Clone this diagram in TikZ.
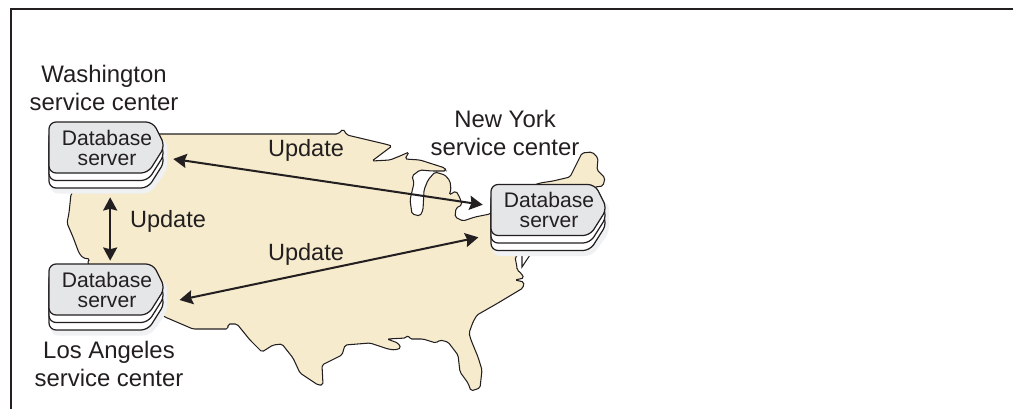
\documentclass[tikz,border=0pt]{standalone}
\usepackage{fontspec}
\setmainfont{Liberation Sans}
\usetikzlibrary{arrows.meta}
\definecolor{mapfill}{HTML}{F6EBCD}
\definecolor{platefill}{HTML}{E5E6E8}
\definecolor{plateshadow}{HTML}{EFF1F3}
\definecolor{inkline}{HTML}{231F20}
% one stacked server; #1 name, #2 and #3 centre of the top plate
\newcommand{\dbserver}[3]{
    \fill[plateshadow, rounded corners=4] (#2-56,#3-10) -- (#2+60,#3-8) -- (#2+60,#3+23) -- (#2+43,#3+46) -- (#2-56,#3+46) -- cycle;
    \foreach \dy in {15,7.5,0} {
        \ifdim\dy pt=0pt \def\platecol{platefill}\else \def\platecol{white}\fi
        \draw[plate, fill=\platecol] (#2-58,#3-25.5+\dy) -- (#2+46,#3-25.5+\dy) -- (#2+58,#3-1.5+\dy) -- (#2+41,#3+25.5+\dy) -- (#2-58,#3+25.5+\dy) -- cycle;
    }
    \node[servertext] (#1) at (#2,#3) {Database\\server};
}
\begin{document}
\begin{tikzpicture}[
    x=0.02cm, y=-0.02cm,
    plate/.style={draw=inkline, line width=0.7pt, rounded corners=4},
    servertext/.style={rectangle, minimum width=2.32cm, minimum height=1.02cm, inner sep=0pt, align=center, text=inkline, font=\fontsize{12}{11.4}\selectfont},
    citytext/.style={align=center, text=inkline, font=\fontsize{13.6}{15.8}\selectfont},
    updatetext/.style={text=inkline, font=\fontsize{13.4}{16}\selectfont},
    arrow/.style={{Stealth[length=7.5pt,width=8pt,inset=1pt]}-{Stealth[length=7.5pt,width=8pt,inset=1pt]}, draw=inkline, line width=1.15pt}
]
    \useasboundingbox (0,0) rectangle (1013,409);

    % Frame, left and top only
    \draw[inkline, line width=0.8pt] (11,409) -- (11,9) -- (1013,9);

    % Map
    \draw[draw=inkline, fill=mapfill, line width=0.6pt, rounded corners=1]
        (120,134) -- (338,134) -- (343,129) -- (347,135) -- (385,144) -- (392,146) -- (372,161) -- (390,160) -- (400,156)
        -- (409,152) -- (405,159) -- (420,160) -- (445,168) -- (446,171) -- (432,171) -- (420,170) -- (412,176) -- (414,183)
        -- (410,200) -- (412,214) -- (420,216) -- (423,210) -- (424,190) -- (428,180) -- (435,172) -- (445,175) -- (450,181)
        -- (451,190) -- (449,195) -- (456,191) -- (460,198) -- (462,205) -- (456,208) -- (455,217) -- (463,221) -- (475,217)
        -- (490,214) -- (520,190) -- (540,183) -- (553,181) -- (570,177) -- (577,163) -- (582,153) -- (592,152) -- (598,158)
        -- (597,170) -- (605,178) -- (603,186) -- (595,187) -- (560,225) -- (525,250) -- (515,257) -- (517,267) -- (517,270)
        -- (521,273) -- (524,278) -- (515,280) -- (524,282) -- (523,288) -- (498,303) -- (477,315) -- (473,322) -- (469,333) -- (471,340)
        -- (478,357) -- (482,370) -- (480,388) -- (471,391) -- (468,383) -- (460,372) -- (458,355) -- (448,342) -- (440,340)
        -- (436,343) -- (423,339) -- (410,339) -- (408,335) -- (406,338) -- (387,339) -- (398,343) -- (401,348) -- (395,350)
        -- (388,349) -- (370,343) -- (345,345) -- (342,355) -- (322,365) -- (323,385) -- (318,385) -- (300,373) -- (293,358)
        -- (282,344) -- (273,345) -- (262,352) -- (250,340) -- (237,324) -- (228,324) -- (228,329) -- (193,329) -- (165,317)
        -- (120,290) -- (87,263) -- (90,259) -- (83,258) -- (79,253) -- (73,237) -- (67,223) -- (69,213) -- (71,194) -- cycle;
    % Long Island
    \draw[inkline, line width=0.6pt] (522,255) -- (522,267) -- (530,255);

    % Three servers
    \dbserver{wash}{107}{147.5}
    \dbserver{la}{107}{289.5}
    \dbserver{ny}{549}{210}

    % Service center labels
    \node[citytext] (washlabel) at (104,88) {Washington\\service center};
    \node[citytext] (nylabel) at (505,133) {New York\\service center};
    \node[citytext] (lalabel) at (109,364) {Los Angeles\\service center};

    % Updates
    \draw[arrow, shorten <=0.16cm, shorten >=0.16cm] (wash.-10.7) -- (ny.176.3);
    \draw[arrow, shorten <=0.29cm, shorten >=0.25cm] (la.-13) -- (ny.203.7);
    \draw[arrow, shorten <=0.48cm, shorten >=0.06cm] (wash.-83.3) -- (la.83.3);

    \node[updatetext] (updatetop) at (306,150) {Update};
    \node[updatetext] (updateside) at (168,221) {Update};
    \node[updatetext] (updatelow) at (306,254) {Update};
\end{tikzpicture}
\end{document}
